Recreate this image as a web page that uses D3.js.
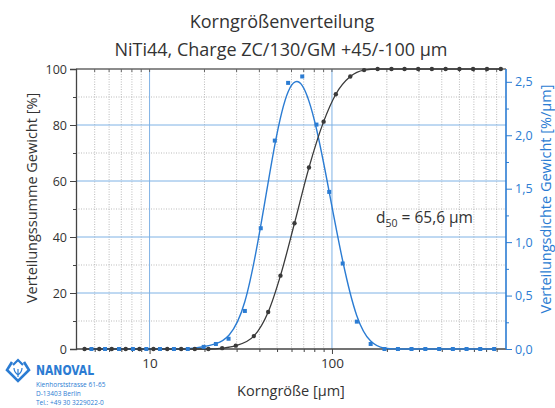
<!DOCTYPE html>
<html>
<head>
<meta charset="utf-8">
<script src="https://cdn.jsdelivr.net/npm/d3@7"></script>
<style>
  html, body { margin: 0; padding: 0; background: #fff; }
  svg { display: block; font-family: "Open Sans", "Noto Sans", sans-serif; }
</style>
</head>
<body>
<svg id="chart" width="555" height="408"></svg>
<script>
// ---- data ----
const title1 = "Korngrößenverteilung";
const title2 = "NiTi44, Charge ZC/130/GM +45/-100 µm";
const leftLabel = "Verteilungssumme Gewicht [%]";
const rightLabel = "Verteilungsdichte Gewicht [%/µm]";
const xLabel = "Korngröße [µm]";

// cumulative distribution (black, left axis, %)
const cumSize  = [4.4, 5.3, 6.2, 7.4, 8.8, 10.5, 12.5, 14.9, 17.7, 21, 25, 29.7, 37.3, 44.7, 52.2, 62.3, 74.8, 90, 105, 126, 150, 178, 212, 250, 297, 353, 420, 500, 594, 708, 843];
const cumValue = [0, 0, 0, 0, 0, 0, 0, 0, 0, 0, 0.3, 1.2, 4.6, 13.2, 26.2, 44.9, 64.8, 81.2, 91.0, 97.3, 99.6, 100, 100, 100, 100, 100, 100, 100, 100, 100, 100];

// density distribution (blue, right axis, %/µm)
const denSize  = [4.8, 5.7, 6.8, 8.1, 9.6, 11.4, 13.6, 16.2, 19.8, 23.1, 27.1, 33.3, 40.7, 48.6, 57.5, 68.7, 82.2, 96.6, 114.5, 136.9, 163, 194, 230, 273, 325, 387, 460, 547, 650, 775];
const denValue = [0, 0, 0, 0, 0, 0, 0, 0, 0.02, 0.047, 0.096, 0.356, 1.13, 1.95, 2.49, 2.55, 2.10, 1.47, 0.80, 0.256, 0.047, 0, 0, 0, 0, 0, 0, 0, 0, 0];

const leftTicks  = [0, 20, 40, 60, 80, 100];
const leftMinor  = [10, 30, 50, 70, 90];
const rightTicks = [0, 0.5, 1.0, 1.5, 2.0, 2.5];
const rightMinor = [0.25, 0.75, 1.25, 1.75, 2.25];
const xMajor = [10, 100];
const xMinor = [5, 6, 7, 8, 9, 20, 30, 40, 50, 60, 70, 80, 90, 200, 300, 400, 500, 600, 700, 800];
const d50Text = "65,6 µm";

const address = ["Kienhorststrasse 61-65", "D-13403 Berlin", "Tel.: +49 30 3229022-0"];

// ---- drawing ----
const svg = d3.select("#chart");
const L = 76, R = 506, T = 69, B = 349;
const blue = "#2b7cd3", gridBlue = "#7fb2e5", gridGray = "#a9a9a9", dark = "#444";

const x = d3.scaleLog().domain([4, 900]).range([77, 506]);
const yL = d3.scaleLinear().domain([0, 100]).range([B, T]);
const yR = d3.scaleLinear().domain([0, 2.62]).range([B, T]);

// grid
const g = svg.append("g");
g.selectAll(".vmin").data(xMinor).join("line")
  .attr("x1", d => x(d)).attr("x2", d => x(d)).attr("y1", T).attr("y2", B)
  .attr("stroke", gridGray).attr("stroke-width", 0.8).attr("stroke-dasharray", "1,1.5");
g.selectAll(".hmin").data(leftMinor).join("line")
  .attr("x1", L).attr("x2", R).attr("y1", d => yL(d)).attr("y2", d => yL(d))
  .attr("stroke", gridGray).attr("stroke-width", 0.8).attr("stroke-dasharray", "1,1.5");
g.selectAll(".vmaj").data(xMajor).join("line")
  .attr("x1", d => x(d)).attr("x2", d => x(d)).attr("y1", T).attr("y2", B)
  .attr("stroke", gridBlue).attr("stroke-width", 1);
g.selectAll(".hmaj").data(leftTicks.filter(d => d > 0 && d < 100)).join("line")
  .attr("x1", L).attr("x2", R).attr("y1", d => yL(d)).attr("y2", d => yL(d))
  .attr("stroke", gridBlue).attr("stroke-width", 1);

// top frame with small inner ticks
svg.append("line").attr("x1", L).attr("x2", R).attr("y1", T).attr("y2", T).attr("stroke", "#666").attr("stroke-width", 1.4);
svg.selectAll(".tt").data(xMinor.concat(xMajor)).join("line")
  .attr("x1", d => x(d)).attr("x2", d => x(d)).attr("y1", T).attr("y2", T + 3)
  .attr("stroke", "#666").attr("stroke-width", 1);

// left axis
const axL = svg.append("g").attr("transform", `translate(${L},0)`)
  .call(d3.axisLeft(yL).tickValues(leftTicks).tickSize(6).tickPadding(3));
axL.select(".domain").attr("stroke", dark).attr("stroke-width", 1.3);
axL.selectAll(".tick line").attr("stroke", dark);
axL.selectAll("text").attr("fill", "#333").style("font-size", "12.5px").style("font-family", "Open Sans");
svg.append("g").attr("transform", `translate(${L},0)`)
  .call(d3.axisLeft(yL).tickValues(leftMinor).tickSize(3).tickFormat(""))
  .call(a => { a.select(".domain").remove(); a.selectAll("line").attr("stroke", dark); });

// bottom axis
const axB = svg.append("g").attr("transform", `translate(0,${B})`)
  .call(d3.axisBottom(x).tickValues(xMajor).tickSize(5).tickPadding(4).tickFormat(d3.format("d")));
axB.select(".domain").attr("stroke", dark).attr("stroke-width", 1.3).attr("d", `M${L},0H${R}`);
axB.selectAll(".tick line").attr("stroke", dark);
axB.selectAll("text").attr("fill", "#333").style("font-size", "13.5px").style("font-family", "Open Sans");
svg.append("g").attr("transform", `translate(0,${B})`)
  .call(d3.axisBottom(x).tickValues(xMinor).tickSize(3).tickFormat(""))
  .call(a => { a.select(".domain").remove(); a.selectAll("line").attr("stroke", dark); });

// right axis
const fmtR = d => d.toFixed(1).replace(".", ",");
const axR = svg.append("g").attr("transform", `translate(${R},0)`)
  .call(d3.axisRight(yR).tickValues(rightTicks).tickSize(6).tickPadding(3).tickFormat(fmtR));
axR.select(".domain").attr("stroke", blue).attr("stroke-width", 1.6).attr("d", `M0,${B}V${T}`);
axR.selectAll(".tick line").attr("stroke", blue);
axR.selectAll("text").attr("fill", blue).style("font-size", "12.5px").style("font-family", "Open Sans");
svg.append("g").attr("transform", `translate(${R},0)`)
  .call(d3.axisRight(yR).tickValues(rightMinor).tickSize(3).tickFormat(""))
  .call(a => { a.select(".domain").remove(); a.selectAll("line").attr("stroke", blue); });

// curves
const lineCum = d3.line().x(d => x(d[0])).y(d => yL(d[1])).curve(d3.curveMonotoneX);
const lineDen = d3.line().x(d => x(d[0])).y(d => yR(d[1])).curve(d3.curveBasis);
const cumData = cumSize.map((s, i) => [s, cumValue[i]]);
const denData = denSize.map((s, i) => [s, denValue[i]]);

svg.append("path").attr("d", lineDen(denData)).attr("fill", "none").attr("stroke", blue).attr("stroke-width", 1.4);
svg.append("path").attr("d", lineCum(cumData)).attr("fill", "none").attr("stroke", "#3a3a3a").attr("stroke-width", 1.3);

svg.selectAll(".dp").data(denData).join("rect")
  .attr("x", d => x(d[0]) - 2).attr("y", d => yR(d[1]) - 2).attr("width", 4).attr("height", 4)
  .attr("fill", blue);
svg.selectAll(".cp").data(cumData).join("circle")
  .attr("cx", d => x(d[0])).attr("cy", d => yL(d[1])).attr("r", 2.2)
  .attr("fill", "#3a3a3a");

// titles
svg.append("text").attr("x", 282).attr("y", 28).attr("text-anchor", "middle")
  .style("font-size", "18px").attr("fill", "#333").text(title1);
svg.append("text").attr("x", 281).attr("y", 56).attr("text-anchor", "middle")
  .style("font-size", "18px").attr("fill", "#333").text(title2);

// axis labels
svg.append("text").attr("transform", "translate(37,198) rotate(-90)").attr("text-anchor", "middle")
  .style("font-size", "14.5px").attr("fill", "#333").text(leftLabel);
svg.append("text").attr("transform", "translate(551,199) rotate(-90)").attr("text-anchor", "middle")
  .style("font-size", "14.5px").attr("fill", blue).text(rightLabel);
svg.append("text").attr("x", 291).attr("y", 396).attr("text-anchor", "middle")
  .style("font-size", "14.5px").attr("fill", "#333").text(xLabel);

// d50 annotation
const dt = svg.append("text").attr("x", 376).attr("y", 223).style("font-size", "15.5px").attr("fill", "#333");
dt.append("tspan").text("d");
dt.append("tspan").attr("dy", 4).style("font-size", "10.5px").text("50");
dt.append("tspan").attr("dy", -4).text(" = " + d50Text);

// logo
const logo = svg.append("g");
logo.append("path")
  .attr("d", "M12,362 L7,370 L18,381 L29,370 L24,362")
  .attr("fill", "none").attr("stroke", blue).attr("stroke-width", 2.6).attr("stroke-linejoin", "miter");
logo.append("path")
  .attr("d", "M13,365 L18,360 L23,365")
  .attr("fill", "none").attr("stroke", blue).attr("stroke-width", 2.2);
logo.append("path")
  .attr("d", "M18,377 L18,369 M18,375 Q14,372 14,368 M18,375 Q22,372 22,368")
  .attr("fill", "none").attr("stroke", blue).attr("stroke-width", 1.2);
logo.append("text").attr("x", 36).attr("y", 375)
  .style("font-size", "12px").style("font-weight", "bold").style("font-family", "Liberation Sans Narrow, DejaVu Sans Condensed, sans-serif")
  .attr("fill", blue).attr("transform", "translate(36,375) scale(1,1.15) translate(-36,-375)").text("NANOVAL");
logo.selectAll(".addr").data(address).join("text")
  .attr("x", 36).attr("y", (d, i) => 387 + i * 9)
  .style("font-size", "6.5px").attr("fill", blue).text(d => d);
</script>
</body>
</html>
